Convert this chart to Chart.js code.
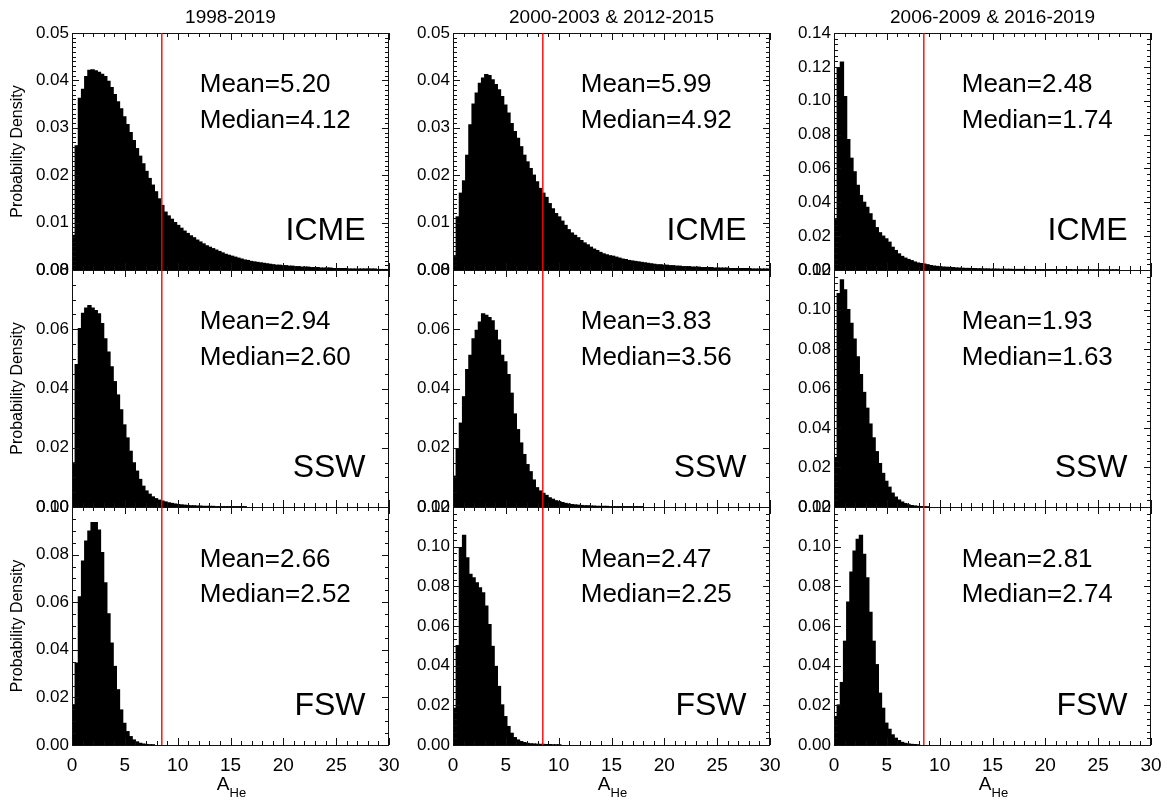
<!DOCTYPE html>
<html lang="en">
<head>
<meta charset="UTF-8">
<title>A_He probability density</title>
<script src="https://cdn.jsdelivr.net/npm/chart.js"></script>
<style>
  body { margin: 0; background: #fff; }
  #wrap { position: relative; width: 1172px; height: 804px; overflow: hidden; }
  #wrap canvas { position: absolute; }
</style>
</head>
<body>
<div id="wrap"></div>
<script>
// histogram bins are 0.3 wide, starting at A_He = 0
const binWidth = 0.3;
const cutoff = 8.5;   // red line

const periods = ['1998-2019', '2000-2003 & 2012-2015', '2006-2009 & 2016-2019'];
const windTypes = ['ICME', 'SSW', 'FSW'];

// ICME
const icmeAll = [0.0073, 0.0262, 0.0362, 0.0381, 0.0408, 0.0421, 0.0422, 0.0420, 0.0417, 0.0413,
  0.0408, 0.0398, 0.0385, 0.0370, 0.0355, 0.0340, 0.0323, 0.0307, 0.0290, 0.0273,
  0.0256, 0.0240, 0.0224, 0.0208, 0.0193, 0.0179, 0.0165, 0.0150, 0.0136, 0.0122,
  0.0114, 0.0107, 0.0100, 0.0094, 0.0088, 0.0082, 0.0077, 0.0072, 0.0068, 0.0063,
  0.0059, 0.0055, 0.0051, 0.0048, 0.0045, 0.0042, 0.0039, 0.0036, 0.0033, 0.0031,
  0.0029, 0.0027, 0.0025, 0.0023, 0.0021, 0.0020, 0.0018, 0.0017, 0.0016, 0.0015,
  0.0014, 0.0013, 0.0012, 0.0011, 0.0010, 0.0010, 0.0009, 0.0009, 0.0008, 0.0008,
  0.0007, 0.0007, 0.0006, 0.0006, 0.0006, 0.0005, 0.0005, 0.0005, 0.0004, 0.0004,
  0.0004, 0.0004, 0.0003, 0.0003, 0.0003, 0.0003, 0.0003, 0.0002, 0.0002, 0.0002,
  0.0002, 0.0002, 0.0002, 0.0002, 0.0002, 0.0002, 0.0001, 0.0001, 0.0001, 0.0001];
const icmeMax = [0.0030, 0.0112, 0.0162, 0.0188, 0.0242, 0.0306, 0.0350, 0.0373, 0.0394, 0.0405,
  0.0412, 0.0410, 0.0401, 0.0391, 0.0380, 0.0366, 0.0348, 0.0331, 0.0309, 0.0292,
  0.0278, 0.0260, 0.0242, 0.0228, 0.0214, 0.0200, 0.0186, 0.0172, 0.0162, 0.0153,
  0.0140, 0.0129, 0.0119, 0.0112, 0.0103, 0.0094, 0.0085, 0.0078, 0.0073, 0.0068,
  0.0062, 0.0057, 0.0053, 0.0048, 0.0044, 0.0041, 0.0037, 0.0034, 0.0032, 0.0030,
  0.0029, 0.0027, 0.0025, 0.0023, 0.0022, 0.0020, 0.0019, 0.0018, 0.0017, 0.0016,
  0.0015, 0.0014, 0.0013, 0.0012, 0.0011, 0.0011, 0.0010, 0.0010, 0.0009, 0.0009,
  0.0008, 0.0008, 0.0007, 0.0007, 0.0007, 0.0006, 0.0006, 0.0006, 0.0005, 0.0005,
  0.0005, 0.0005, 0.0004, 0.0004, 0.0004, 0.0004, 0.0004, 0.0003, 0.0003, 0.0003,
  0.0003, 0.0003, 0.0003, 0.0003, 0.0002, 0.0002, 0.0002, 0.0002, 0.0002, 0.0002];
const icmeMin = [0.0303, 0.1192, 0.1228, 0.1024, 0.0771, 0.0660, 0.0580, 0.0500, 0.0440, 0.0400,
  0.0370, 0.0332, 0.0293, 0.0250, 0.0220, 0.0200, 0.0184, 0.0164, 0.0134, 0.0115,
  0.0095, 0.0080, 0.0070, 0.0062, 0.0055, 0.0047, 0.0041, 0.0038, 0.0035, 0.0031,
  0.0026, 0.0023, 0.0021, 0.0019, 0.0017, 0.0016, 0.0015, 0.0014, 0.0012, 0.0011,
  0.0010, 0.0009, 0.0009, 0.0008, 0.0008, 0.0007, 0.0007, 0.0006, 0.0006, 0.0005,
  0.0005, 0.0005, 0.0004, 0.0004, 0.0004, 0.0004, 0.0003, 0.0003, 0.0003, 0.0003,
  0.0003, 0.0002, 0.0002, 0.0002, 0.0002, 0.0002, 0.0002, 0.0002, 0.0002, 0.0002,
  0.0002, 0.0002, 0.0002, 0.0002, 0.0002, 0.0001, 0.0001, 0.0001, 0.0001, 0.0001,
  0.0001, 0.0001, 0.0001, 0.0001, 0.0001, 0.0001, 0.0001, 0.0001, 0.0001, 0.0001];

// slow solar wind
const sswAll = [0.0149, 0.0481, 0.0602, 0.0654, 0.0671, 0.0680, 0.0671, 0.0663, 0.0652, 0.0619,
  0.0568, 0.0523, 0.0473, 0.0423, 0.0378, 0.0328, 0.0277, 0.0233, 0.0188, 0.0149,
  0.0121, 0.0093, 0.0070, 0.0054, 0.0043, 0.0034, 0.0028, 0.0023, 0.0020, 0.0017,
  0.0014, 0.0012, 0.0010, 0.0008, 0.0007, 0.0006, 0.0005, 0.0004, 0.0004, 0.0003,
  0.0003, 0.0002, 0.0002, 0.0002, 0.0002, 0.0001, 0.0001, 0.0001, 0.0001, 0.0001,
  0.0001, 0.0001, 0.0001, 0.0001, 0.0001];
const sswMax = [0.0104, 0.0197, 0.0283, 0.0372, 0.0464, 0.0512, 0.0568, 0.0596, 0.0624, 0.0652,
  0.0647, 0.0639, 0.0628, 0.0596, 0.0563, 0.0512, 0.0490, 0.0447, 0.0384, 0.0314,
  0.0261, 0.0216, 0.0177, 0.0143, 0.0119, 0.0091, 0.0065, 0.0054, 0.0046, 0.0039,
  0.0031, 0.0026, 0.0021, 0.0018, 0.0015, 0.0012, 0.0010, 0.0008, 0.0007, 0.0006,
  0.0005, 0.0004, 0.0004, 0.0003, 0.0003, 0.0002, 0.0002, 0.0002, 0.0002, 0.0001,
  0.0001, 0.0001, 0.0001, 0.0001, 0.0001, 0.0001, 0.0001, 0.0001, 0.0001, 0.0001];
const sswMin = [0.0250, 0.1080, 0.1150, 0.1100, 0.1000, 0.0930, 0.0850, 0.0760, 0.0670, 0.0580,
  0.0500, 0.0420, 0.0350, 0.0280, 0.0220, 0.0170, 0.0130, 0.0100, 0.0070, 0.0050,
  0.0035, 0.0025, 0.0017, 0.0011, 0.0007, 0.0005, 0.0003, 0.0002, 0.0001, 0.0001];

// fast solar wind
const fswAll = [0.0169, 0.0344, 0.0622, 0.0773, 0.0857, 0.0899, 0.0934, 0.0934, 0.0903, 0.0808,
  0.0681, 0.0551, 0.0428, 0.0330, 0.0232, 0.0147, 0.0091, 0.0056, 0.0035, 0.0021,
  0.0013, 0.0007, 0.0004, 0.0002, 0.0001, 0.0001];
const fswMax = [0.0185, 0.0501, 0.0995, 0.1057, 0.0944, 0.0860, 0.0843, 0.0818, 0.0792, 0.0767,
  0.0700, 0.0607, 0.0497, 0.0396, 0.0295, 0.0202, 0.0143, 0.0093, 0.0059, 0.0037,
  0.0025, 0.0017, 0.0012, 0.0008, 0.0006, 0.0005, 0.0004, 0.0003, 0.0003, 0.0002,
  0.0002, 0.0001, 0.0001, 0.0001];
const fswMin = [0.0143, 0.0202, 0.0315, 0.0523, 0.0720, 0.0872, 0.0978, 0.1037, 0.1057, 0.0961,
  0.0843, 0.0669, 0.0523, 0.0405, 0.0261, 0.0185, 0.0110, 0.0079, 0.0051, 0.0034,
  0.0022, 0.0013, 0.0008, 0.0005, 0.0003, 0.0002, 0.0001];

const icmeMean = [5.20, 5.99, 2.48], icmeMedian = [4.12, 4.92, 1.74];
const sswMean = [2.94, 3.83, 1.93], sswMedian = [2.60, 3.56, 1.63];
const fswMean = [2.66, 2.47, 2.81], fswMedian = [2.52, 2.25, 2.74];

// y axis range, major step and minor divisions per panel (rows: ICME, SSW, FSW)
const yMaxes = [[0.05, 0.05, 0.14], [0.08, 0.08, 0.12], [0.10, 0.12, 0.12]];
const ySteps = [[0.01, 0.01, 0.02], [0.02, 0.02, 0.02], [0.02, 0.02, 0.02]];
const yMinors = [[10, 10, 6], [4, 4, 6], [4, 6, 6]];

const rows = [
  [icmeAll, icmeMax, icmeMin],
  [sswAll, sswMax, sswMin],
  [fswAll, fswMax, fswMin]
];
const means = [icmeMean, sswMean, fswMean];
const medians = [icmeMedian, sswMedian, fswMedian];

const FONT = '"Liberation Sans", Arial, Helvetica, sans-serif';
Chart.defaults.font.family = FONT;
Chart.defaults.color = '#000';

// layout (px)
const plotLeft = [72, 453, 834];
const plotTop = [33, 270, 507];
const plotW = 317;
const plotH = [237, 237, 238];
const axisW = 70;

// frame, inward ticks, red line and the text labels
const panelDecor = {
  id: 'panelDecor',
  afterDatasetsDraw(chart, args, o) {
    const ctx = chart.ctx;
    const a = chart.chartArea;
    const xs = chart.scales.x, ys = chart.scales.y;
    ctx.save();

    ctx.strokeStyle = '#111';
    ctx.lineWidth = 1;
    ctx.beginPath();
    for (let v = 0; v <= 30; v++) {
      const px = Math.round(xs.getPixelForValue(v)) + 0.5;
      const len = v % 5 === 0 ? 7 : 4;
      ctx.moveTo(px, a.bottom); ctx.lineTo(px, a.bottom - len);
      ctx.moveTo(px, a.top); ctx.lineTo(px, a.top + len);
    }
    const nMinor = Math.round(o.yMax / o.yStep) * o.yMinor;
    for (let i = 0; i <= nMinor; i++) {
      const py = Math.round(ys.getPixelForValue(i * o.yStep / o.yMinor)) + 0.5;
      const len = i % o.yMinor === 0 ? 7 : 4;
      ctx.moveTo(a.left, py); ctx.lineTo(a.left + len, py);
      ctx.moveTo(a.right, py); ctx.lineTo(a.right - len, py);
    }
    ctx.stroke();
    ctx.strokeRect(a.left + 0.5, a.top + 0.5, a.width - 1, a.height);

    // red cutoff line, drawn last so it sits over bars and ticks
    const cx = xs.getPixelForValue(cutoff);
    ctx.strokeStyle = 'rgb(255,0,0)';
    ctx.lineWidth = 1.4;
    ctx.beginPath();
    ctx.moveTo(cx, a.top);
    ctx.lineTo(cx, a.bottom);
    ctx.stroke();

    ctx.fillStyle = '#000';
    ctx.textBaseline = 'alphabetic';
    ctx.textAlign = 'left';
    ctx.font = '26px ' + FONT;
    const tx = a.left + 0.403 * a.width;
    ctx.fillText('Mean=' + o.mean.toFixed(2), tx, a.top + 0.25 * a.height);
    ctx.fillText('Median=' + o.median.toFixed(2), tx, a.top + 0.40 * a.height);

    ctx.textAlign = 'right';
    ctx.font = '32px ' + FONT;
    ctx.fillText(o.label, a.left + 0.926 * a.width, a.top + 0.872 * a.height);

    if (o.title) {
      ctx.textAlign = 'center';
      ctx.textBaseline = 'middle';
      ctx.font = '19px ' + FONT;
      ctx.fillText(o.title, (a.left + a.right) / 2, a.top - 15);
    }
    if (o.xLabel) {
      ctx.textBaseline = 'alphabetic';
      ctx.textAlign = 'left';
      ctx.font = '19px ' + FONT;
      const wA = ctx.measureText('A').width;
      ctx.font = '13px ' + FONT;
      const wHe = ctx.measureText('He').width;
      const x0 = (a.left + a.right) / 2 - (wA + wHe) / 2 + 1;
      ctx.font = '19px ' + FONT;
      ctx.fillText('A', x0, a.bottom + 45);
      ctx.font = '13px ' + FONT;
      ctx.fillText('He', x0 + wA, a.bottom + 52);
    }
    ctx.restore();
  }
};

const wrap = document.getElementById('wrap');

for (let r = 0; r < 3; r++) {
  for (let c = 0; c < 3; c++) {
    const padTop = r === 0 ? 33 : 15;
    const padBottom = r === 2 ? 0 : 15;
    const xAxisH = r === 2 ? 59 : 0;
    const padRight = 20;
    const canvas = document.createElement('canvas');
    const cw = axisW + plotW + padRight;
    const ch = padTop + plotH[r] + padBottom + xAxisH;
    canvas.width = cw;
    canvas.height = ch;
    canvas.style.width = cw + 'px';
    canvas.style.height = ch + 'px';
    canvas.style.left = (plotLeft[c] - axisW) + 'px';
    canvas.style.top = (plotTop[r] - padTop) + 'px';
    wrap.appendChild(canvas);

    const values = rows[r][c];
    const points = values.map((v, i) => ({ x: (i + 0.5) * binWidth, y: v }));

    new Chart(canvas.getContext('2d'), {
      type: 'bar',
      data: {
        datasets: [{
          data: points,
          backgroundColor: '#000',
          borderWidth: 0,
          inflateAmount: 0.6,
          barPercentage: 1,
          categoryPercentage: 1
        }]
      },
      options: {
        responsive: false,
        animation: false,
        devicePixelRatio: 1,
        layout: { padding: { left: 0, top: padTop, right: padRight, bottom: padBottom } },
        plugins: {
          legend: { display: false },
          tooltip: { enabled: false },
          panelDecor: {
            yMax: yMaxes[r][c],
            yStep: ySteps[r][c],
            yMinor: yMinors[r][c],
            mean: means[r][c],
            median: medians[r][c],
            label: windTypes[r],
            title: r === 0 ? periods[c] : null,
            xLabel: r === 2
          }
        },
        scales: {
          x: {
            type: 'linear',
            display: r === 2,
            min: 0,
            max: 30,
            offset: false,
            grid: { display: false, drawTicks: false, offset: false },
            border: { display: false },
            ticks: {
              stepSize: 5,
              autoSkip: false,
              maxRotation: 0,
              padding: 9,
              font: { size: 19 },
              callback: v => String(v)
            },
            afterFit: s => { s.height = xAxisH; s.paddingLeft = 0; s.paddingRight = 0; }
          },
          y: {
            min: 0,
            max: yMaxes[r][c],
            grid: { display: false, drawTicks: false },
            border: { display: false },
            title: {
              display: c === 0,
              text: 'Probability Density',
              font: { size: 16 },
              padding: { top: 6.4, bottom: 0 }
            },
            ticks: {
              stepSize: ySteps[r][c],
              autoSkip: false,
              padding: 3,
              font: { size: 17 },
              callback: v => v.toFixed(2)
            },
            afterFit: s => { s.width = axisW; s.paddingTop = 0; s.paddingBottom = 0; }
          }
        }
      },
      plugins: [panelDecor]
    });
  }
}
</script>
</body>
</html>
